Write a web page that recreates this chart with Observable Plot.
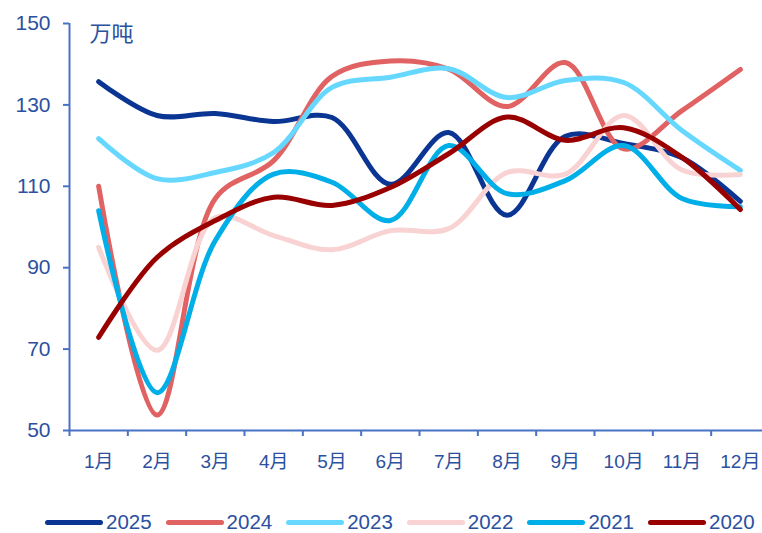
<!DOCTYPE html>
<html>
<head>
<meta charset="utf-8">
<script src="https://cdn.jsdelivr.net/npm/d3@7"></script>
<script src="https://cdn.jsdelivr.net/npm/@observablehq/plot@0.6"></script>
<style>
  html, body { margin: 0; padding: 0; background: #fff; }
  body { width: 762px; height: 533px; position: relative; overflow: hidden;
         font-family: "Liberation Sans", Arial, "Noto Sans CJK SC", sans-serif; }
  #chart { position: absolute; left: 0; top: 0; }
  #legend { position: absolute; left: 0; top: 509px; width: 762px; height: 24px; }
  .item { position: absolute; top: 0; height: 24px; display: flex; align-items: center; white-space: nowrap; }
  .sw { width: 58px; height: 5px; border-radius: 3px; margin-right: 3px; flex: none; margin-top: 3px; }
  .lb { font-size: 20.5px; color: #2c50a0; line-height: 24px; position: relative; top: 1px; }
</style>
</head>
<body>
<div id="chart"></div>
<div id="legend"></div>
<script>
const months = ["1月","2月","3月","4月","5月","6月","7月","8月","9月","10月","11月","12月"];
const years = ["2025","2024","2023","2022","2021","2020"];
const colors = ["#0b3592","#e06262","#66d8ff","#f9d3d3","#00aee8","#990000"];
const yTicks = [50, 70, 90, 110, 130, 150];
const unitLabel = "万吨";

const v2025 = [135.7,127.4,127.9,125.9,126.9,110.5,123.2,102.9,122.3,120.5,117.0,106.3];
const v2024 = [110.0, 53.8,107.0,116.3,137.0,140.8,138.8,129.6,140.4,119.2,128.6,138.7];
const v2023 = [121.7,111.9,113.4,118.3,134.3,136.8,138.9,131.8,136.0,135.5,123.7,113.9];
const v2022 = [ 95.0, 69.7,102.3, 97.9, 94.4, 99.1, 99.6,113.4,113.0,127.4,114.0,112.9];
const v2021 = [104.0, 59.3, 96.7,113.0,111.0,101.6,120.0,108.2,111.4,120.0,107.0,105.0];
const v2020 = [ 72.9, 92.5,101.6,107.3,105.3,109.7,118.0,127.0,121.3,124.4,117.1,104.3];

const series = [v2025, v2024, v2023, v2022, v2021, v2020];
const data = [];
series.forEach((vals, si) => vals.forEach((v, i) => data.push({year: years[si], m: i + 1, v})));

const textColor = "#2c50a0";
const axisColor = "#4a72c4";

const chart = Plot.plot({
  width: 762,
  height: 490,
  marginLeft: 69,
  marginRight: 0,
  marginTop: 23,
  marginBottom: 60,
  style: { fontFamily: '"Liberation Sans", Arial, "Noto Sans CJK SC", sans-serif', background: "#fff" },
  x: { type: "linear", domain: [0.5, 12.38], axis: null },
  y: { domain: [50, 150], axis: null },
  color: { domain: years, range: colors },
  marks: [
    Plot.lineY(data, { x: "m", y: "v", z: "year", stroke: "year", strokeWidth: 5,
      curve: "catmull-rom", strokeLinecap: "round", strokeLinejoin: "round" }),
    Plot.ruleX([0.5], { stroke: axisColor, strokeWidth: 2 }),
    Plot.ruleY([50], { stroke: axisColor, strokeWidth: 2 }),
    Plot.axisY({ ticks: yTicks, tickSize: 6, tickPadding: 13, stroke: axisColor, strokeWidth: 2,
      strokeOpacity: 1, color: textColor, fontSize: 21, label: null, tickFormat: d => String(d) }),
    Plot.axisX({ ticks: d3.range(0.5, 12, 1), tickSize: 6, stroke: axisColor, strokeWidth: 2,
      strokeOpacity: 1, label: null, tickFormat: () => "" }),
    Plot.axisX({ ticks: d3.range(1, 13), tickSize: 0, tickPadding: 24, color: textColor,
      fontSize: 19, label: null, tickFormat: d => months[d - 1] }),
    Plot.text([unitLabel], { frameAnchor: "top-left", dx: 20, dy: 10, textAnchor: "start",
      lineAnchor: "middle", fill: textColor, fontSize: 22 })
  ]
});
document.getElementById("chart").appendChild(chart);

const legend = document.getElementById("legend");
years.forEach((y, i) => {
  const item = document.createElement("div");
  item.className = "item";
  item.style.left = (45 + i * 120.6) + "px";
  const sw = document.createElement("div");
  sw.className = "sw";
  sw.style.background = colors[i];
  const lb = document.createElement("span");
  lb.className = "lb";
  lb.textContent = y;
  item.appendChild(sw);
  item.appendChild(lb);
  legend.appendChild(item);
});
</script>
</body>
</html>
